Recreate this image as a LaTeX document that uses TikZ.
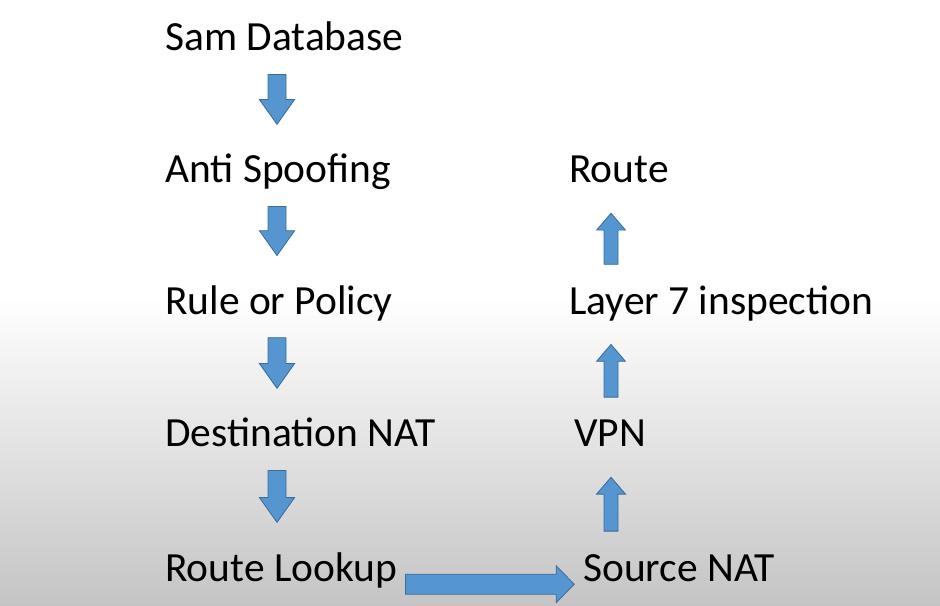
\documentclass[tikz,border=0pt]{standalone}
\usepackage{fontspec}
\setmainfont{Carlito}
\usepackage{xcolor}
\usetikzlibrary{calc}
\definecolor{cArrow}{RGB}{86,150,208}
\definecolor{cArrowLine}{RGB}{60,108,152}
\tikzset{
	stage/.style    ={anchor=base west, inner sep=0pt, text height=0.66cm, text depth=0.23cm, font=\fontsize{29.5}{36}\selectfont, text=black},
	% block arrow: start gap, end gap, shaft half width, head half width, head length
	blk/.style n args={5}{fill=cArrow, draw=cArrowLine, line width=0.6pt,
		to path={let \p1=($(\tikztostart)!#1!(\tikztotarget)$), \p2=($(\tikztotarget)!#2!(\tikztostart)$), \p3=($(\p2)!#5!(\p1)$) in
			($(\p1)!#3!90:(\p2)$) -- ($(\p3)!#3!-90:(\p1)$) -- ($(\p3)!#4!-90:(\p1)$) -- (\p2) -- ($(\p3)!#4!90:(\p1)$) -- ($(\p3)!#3!90:(\p1)$) -- ($(\p1)!#3!-90:(\p2)$) -- cycle}},
	downblk/.style  ={blk={0.35cm}{0.8cm}{0.225cm}{0.44cm}{0.62cm}},
	upblk/.style    ={blk={0.58cm}{0.52cm}{0.175cm}{0.36cm}{0.42cm}},
	sideblk/.style  ={blk={0.2cm}{0.22cm}{0.25cm}{0.46cm}{0.45cm}},
}
\begin{document}
\begin{tikzpicture}
	\useasboundingbox (0,0) rectangle (23.5,15.125);
	% ---- background ----
	\fill[white] (0,0) rectangle (23.5,15.125);
	\shade[top color=white, middle color=black!8, bottom color=black!23] (0,0) rectangle (23.5,7.7);
	% ---- column axes ----
	\coordinate (lcol) at (6.925,0);
	\coordinate (rcol) at (15.275,0);
	% ---- left column ----
	\node[stage] (sam)    at (4.125,13.85) {Sam Database};
	\node[stage] (anti)   at (4.125,10.55) {Anti Spoofing};
	\node[stage] (rule)   at (4.125,7.27)  {Rule or Policy};
	\node[stage] (dnat)   at (4.125,3.95)  {Destination NAT};
	\node[stage] (lookup) at (4.125,0.6)   {Route Lookup};
	% ---- right column ----
	\node[stage] (route)  at (14.225,10.55) {Route};
	\node[stage] (layer)  at (14.225,7.27)  {Layer 7 inspection};
	\node[stage] (vpn)    at (14.35,3.95)   {VPN};
	\node[stage] (snat)   at (14.575,0.6)   {Source NAT};
	% ---- arrows ----
	\draw[downblk] (sam.south -| lcol) to (anti.north -| lcol);
	\draw[downblk] (anti.south -| lcol) to (rule.north -| lcol);
	\draw[downblk] (rule.south -| lcol) to (dnat.north -| lcol);
	\draw[downblk] (dnat.south -| lcol) to (lookup.north -| lcol);
	\draw[sideblk] ([yshift=-0.08cm]lookup.base east) to ([yshift=-0.08cm]snat.base west);
	\draw[upblk] (snat.north -| rcol) to (vpn.south -| rcol);
	\draw[upblk] (vpn.north -| rcol) to (layer.south -| rcol);
	\draw[upblk] (layer.north -| rcol) to (route.south -| rcol);
\end{tikzpicture}
\end{document}
